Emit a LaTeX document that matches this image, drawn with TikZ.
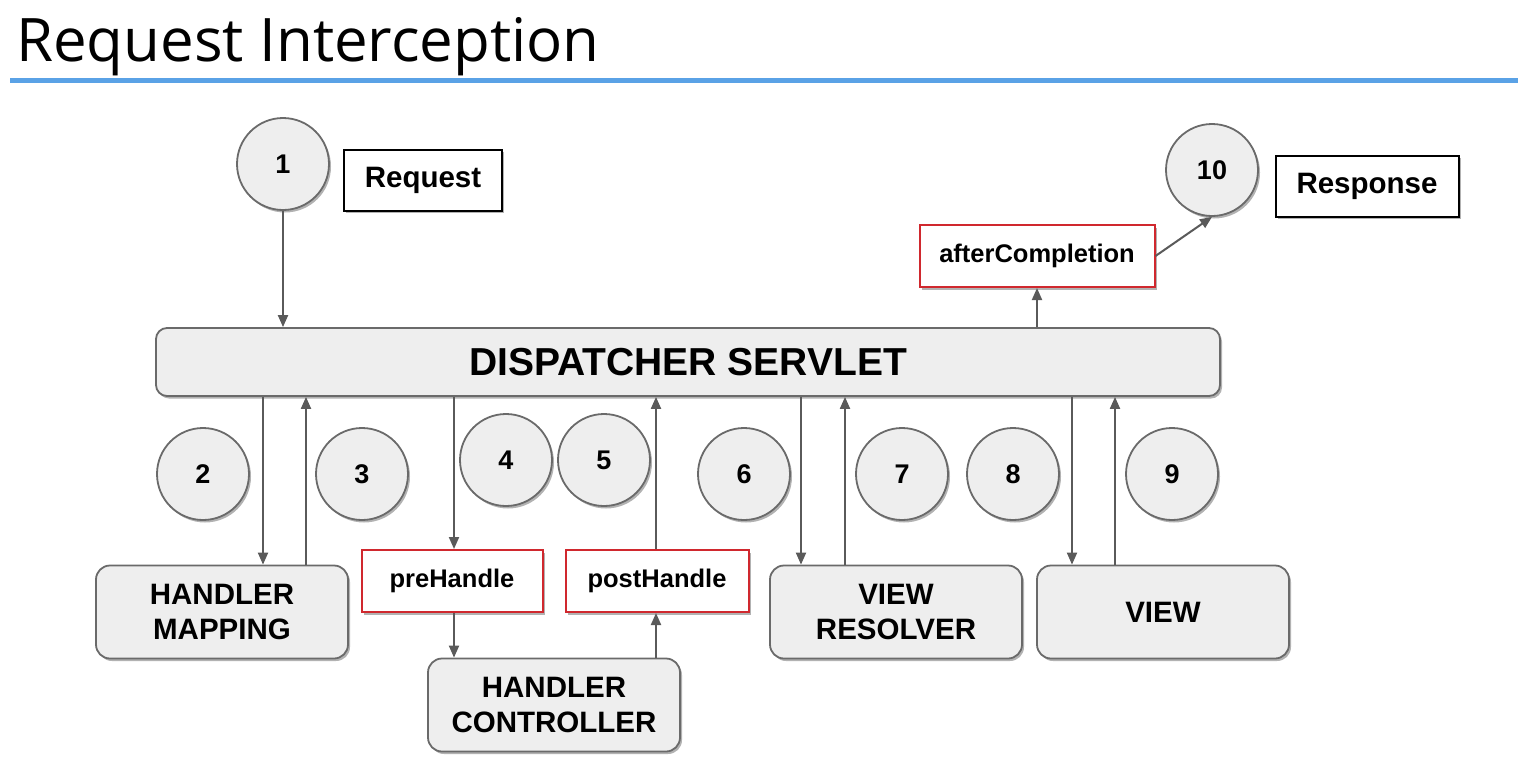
\documentclass[tikz,border=0pt]{standalone}
\usepackage{fontspec}
\setmainfont{Liberation Sans}
\newfontfamily\titlefont{Open Sans}
\usetikzlibrary{arrows.meta,shadows}
\definecolor{titleblue}{HTML}{5AA2E6}
\definecolor{hookred}{HTML}{D0282E}
\definecolor{boxfill}{HTML}{EEEEEE}
\definecolor{boxline}{HTML}{6A6A6A}
\definecolor{arrline}{HTML}{5A5A5A}
\begin{document}
\begin{tikzpicture}[x=1pt,y=-1pt,
 shd/.style={drop shadow={shadow xshift=2pt,shadow yshift=-2.5pt,opacity=0.3,fill=black}},
 num/.style={circle,draw=boxline,line width=1.8pt,fill=boxfill,minimum size=92pt,inner sep=0pt,font=\bfseries\fontsize{27}{30}\selectfont,shd},
 comp/.style={rounded corners=14pt,draw=boxline,line width=1.8pt,fill=boxfill,minimum width=252pt,minimum height=93pt,align=center,font=\bfseries\fontsize{29.5}{35}\selectfont,shd},
 lbl/.style={draw=black,line width=2pt,fill=white,minimum height=61pt,inner sep=0pt,font=\bfseries\fontsize{29.5}{32}\selectfont,shd},
 hook/.style={draw=hookred,line width=2pt,fill=white,minimum height=62pt,inner sep=0pt,font=\bfseries\fontsize{25.5}{30}\selectfont,shd},
 arr/.style={draw=arrline,line width=2pt,-{Triangle[length=12pt,width=10pt]}}]
\useasboundingbox (0,0) rectangle (1518,763);

% title
\node[anchor=base west,inner sep=0pt,font=\titlefont\fontsize{60}{60}\selectfont] (title) at (16,61) {Request Interception};
\coordinate (bl) at (10,80);
\coordinate (br) at (1518,80);
\draw[titleblue,line width=5pt] (bl) -- (br);

% dispatcher
\node[rounded corners=11pt,draw=boxline,line width=1.8pt,fill=boxfill,minimum width=1064pt,minimum height=68pt,inner sep=0pt,font=\bfseries\fontsize{39}{42}\selectfont,shd] (disp) at (688,362) {DISPATCHER SERVLET};

% top
\node[num] (c1) at (283,164) {1};
\node[lbl,minimum width=158pt] (req) at (423,180) {Request};
\node[num] (c10) at (1212,170) {10};
\node[lbl,minimum width=183pt] (resp) at (1367,186) {Response};
\node[hook,minimum width=235pt] (ac) at (1037,256) {afterCompletion};

% bottom components
\node[comp] (hm) at (222,612) {HANDLER\\MAPPING};
\node[comp] (hc) at (554,705) {HANDLER\\CONTROLLER};
\node[comp] (vr) at (896,612) {VIEW\\RESOLVER};
\node[comp] (vw) at (1163,612) {VIEW};
\node[hook,minimum width=181pt] (pre) at (452,581) {preHandle};
\node[hook,minimum width=183pt] (post) at (657,581) {postHandle};

% numbered circles
\node[num] (c2) at (203,474) {2};
\node[num] (c3) at (362,474) {3};
\node[num] (c4) at (506,460) {4};
\node[num] (c5) at (604,460) {5};
\node[num] (c6) at (744,474) {6};
\node[num] (c7) at (902,474) {7};
\node[num] (c8) at (1013,474) {8};
\node[num] (c9) at (1172,474) {9};

% arrow x positions
\coordinate (x2) at (263,0);
\coordinate (x3) at (306,0);
\coordinate (x4) at (454,0);
\coordinate (x5) at (656,0);
\coordinate (x6) at (801,0);
\coordinate (x7) at (845,0);
\coordinate (x8) at (1072,0);
\coordinate (x9) at (1115,0);
\coordinate (x10) at (1037,0);

% connectors
\draw[arr] (c1.south) -- (disp.north -| c1.south);
\draw[arr] (disp.north -| x10) -- (ac.south);
\draw[arr] (ac.east) -- (c10.south);
\draw[arr] (disp.south -| x2) -- (hm.north -| x2);
\draw[arr] (hm.north -| x3) -- (disp.south -| x3);
\draw[arr] (disp.south -| x4) -- (pre.north -| x4);
\draw[arr] (pre.south -| x4) -- (hc.north -| x4);
\draw[arr] (hc.north -| x5) -- (post.south -| x5);
\draw[arr] (post.north -| x5) -- (disp.south -| x5);
\draw[arr] (disp.south -| x6) -- (vr.north -| x6);
\draw[arr] (vr.north -| x7) -- (disp.south -| x7);
\draw[arr] (disp.south -| x8) -- (vw.north -| x8);
\draw[arr] (vw.north -| x9) -- (disp.south -| x9);
\end{tikzpicture}
\end{document}
